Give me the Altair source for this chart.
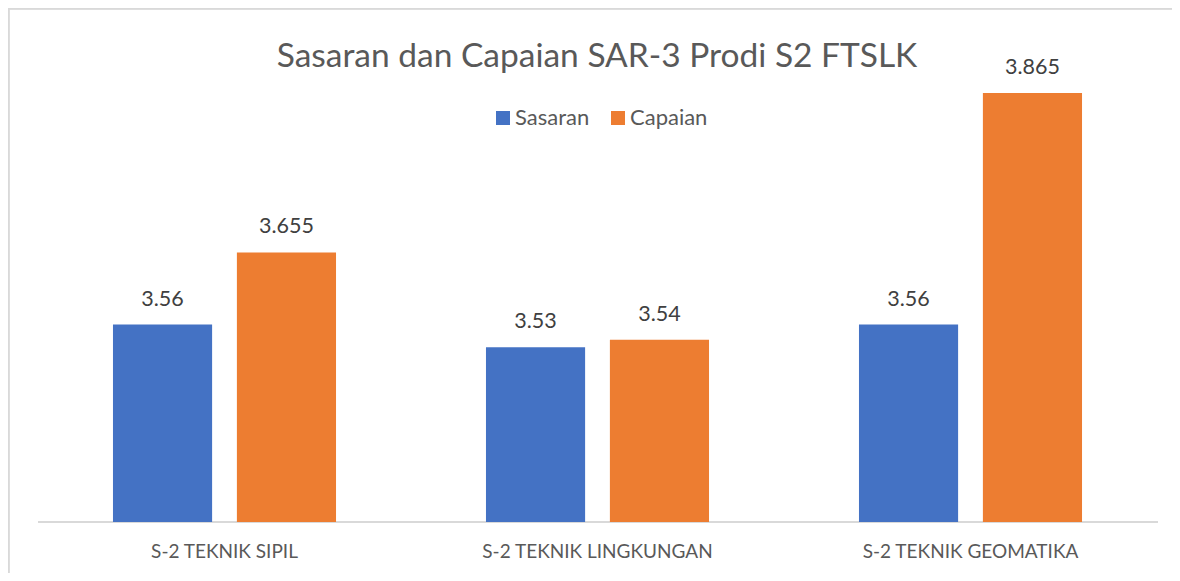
import altair as alt
import pandas as pd

title_text = "Sasaran dan Capaian SAR-3 Prodi S2 FTSLK"
categories = ["S-2 TEKNIK SIPIL", "S-2 TEKNIK LINGKUNGAN", "S-2 TEKNIK GEOMATIKA"]
series = ["Sasaran", "Capaian"]
sasaran = [3.56, 3.53, 3.56]
capaian = [3.655, 3.54, 3.865]
colors = ["#4472C4", "#ED7D31"]

rows = []
for c, s_v, c_v in zip(categories, sasaran, capaian):
    rows.append({"cat": c, "series": "Sasaran", "value": s_v, "label": str(s_v)})
    rows.append({"cat": c, "series": "Capaian", "value": c_v, "label": str(c_v)})
df = pd.DataFrame(rows)
cat_df = pd.DataFrame({"cat": categories})
title_df = pd.DataFrame({"t": [title_text]})

FONT = "Lato"
W, H = 1164, 565

xscale = alt.Scale(domain=categories, range=[30, 1149], paddingInner=0.402, paddingOuter=0.201)
yscale = alt.Scale(domain=[3.3, 3.9], range=[514, 58.4], zero=False, nice=False)
xoff = alt.XOffset("series:N", sort=series,
                   scale=alt.Scale(domain=series, paddingInner=0.2, paddingOuter=0))

bars = alt.Chart(df).mark_bar().encode(
    x=alt.X("cat:N", sort=categories, scale=xscale, axis=None),
    xOffset=xoff,
    y=alt.Y("value:Q", scale=yscale, axis=None),
    y2=alt.datum(3.3),
    color=alt.Color("series:N", sort=series,
                    scale=alt.Scale(domain=series, range=colors),
                    legend=alt.Legend(orient="none", legendX=484, legendY=99,
                                      direction="horizontal", title=None,
                                      symbolType="square", symbolSize=196,
                                      symbolStrokeWidth=0, labelFont=FONT,
                                      labelFontSize=22, labelColor="#595959",
                                      columnPadding=17, labelOffset=1)),
)

values = alt.Chart(df).mark_text(font=FONT, fontSize=21.5, color="#404040",
                                 baseline="middle", dy=-25).encode(
    x=alt.X("cat:N", sort=categories, scale=xscale, axis=None),
    xOffset=xoff,
    y=alt.Y("value:Q", scale=yscale, axis=None),
    text="label:N",
)

cat_labels = alt.Chart(cat_df).mark_text(font=FONT, fontSize=19, color="#595959",
                                         baseline="middle").encode(
    x=alt.X("cat:N", sort=categories, scale=xscale, axis=None),
    y=alt.value(544),
    text="cat:N",
)

title = alt.Chart(title_df).mark_text(font=FONT, fontSize=33.5, color="#595959",
                                      baseline="middle", align="center").encode(
    x=alt.value(589), y=alt.value(49), text="t:N")

baseline = alt.Chart(cat_df).mark_rule(color="#d9d9d9", strokeWidth=1.5).encode(
    x=alt.value(30), x2=alt.value(1150), y=alt.value(514))

border_top = alt.Chart(cat_df).mark_rule(color="#d9d9d9", strokeWidth=1.5).encode(
    x=alt.value(0), x2=alt.value(W), y=alt.value(0.75))
border_left = alt.Chart(cat_df).mark_rule(color="#d9d9d9", strokeWidth=1.5).encode(
    x=alt.value(0.75), y=alt.value(0), y2=alt.value(H))

chart = alt.layer(border_top, border_left, baseline, bars, values, cat_labels, title).properties(
    width=W, height=H, autosize=alt.AutoSizeParams(type="none"), padding=0,
    background="white",
).configure_view(stroke="transparent", strokeWidth=0)

chart.save("out.html", embed_options={"renderer": "svg", "actions": False})
